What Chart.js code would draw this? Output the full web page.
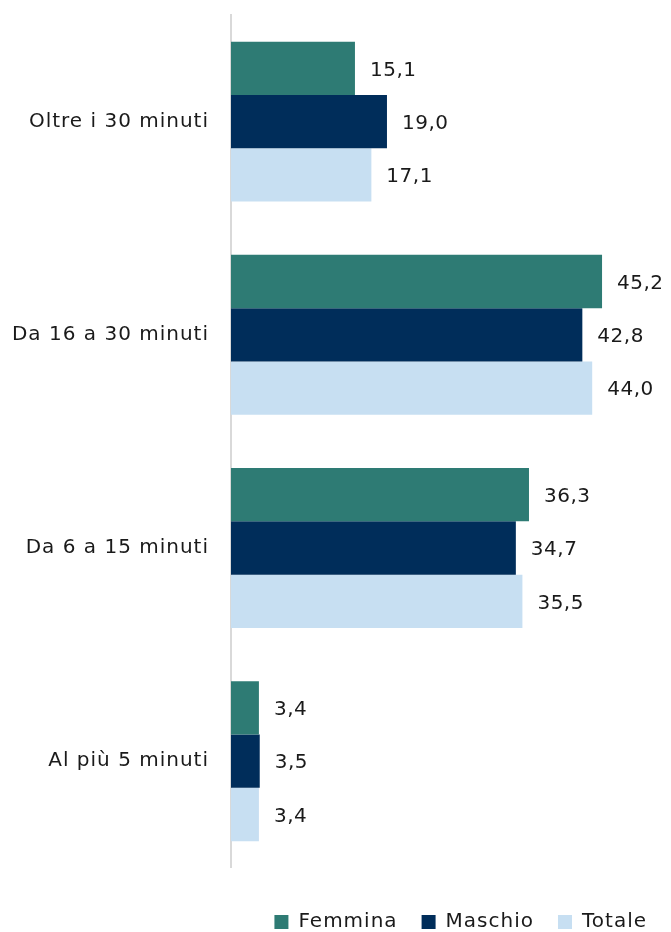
<!DOCTYPE html>
<html lang="it">
<head>
    <meta charset="UTF-8">
    <title>Tempo di percorrenza</title>
    <script src="https://cdn.jsdelivr.net/npm/chart.js"></script>
    <style>
        html, body { margin: 0; padding: 0; background: #fff; }
        #wrap { width: 671px; height: 932px; }
    </style>
</head>
<body>
<div id="wrap"><canvas id="grafico"></canvas></div>

<script>
    // Categorie e valori
    const categorie = ['Oltre i 30 minuti', 'Da 16 a 30 minuti', 'Da 6 a 15 minuti', 'Al più 5 minuti'];
    const femmina = [15.1, 45.2, 36.3, 3.4];
    const maschio = [19.0, 42.8, 34.7, 3.5];
    const totale = [17.1, 44.0, 35.5, 3.4];

    const FONT = "'DejaVu Sans', sans-serif";

    // testo un po' più largo per etichette e legenda
    const spaziatura = {
        id: 'spaziatura',
        beforeLayout(chart) { chart.ctx.letterSpacing = '1px'; },
        beforeDraw(chart) { chart.ctx.letterSpacing = '1px'; }
    };

    // Etichette dei valori a destra delle barre (virgola decimale)
    const etichetteValori = {
        id: 'etichetteValori',
        afterDatasetsDraw(chart) {
            const ctx = chart.ctx;
            ctx.save();
            ctx.letterSpacing = '0.5px';
            ctx.font = '20px ' + FONT;
            ctx.fillStyle = '#1a1a1a';
            ctx.textAlign = 'left';
            ctx.textBaseline = 'middle';
            chart.data.datasets.forEach((ds, i) => {
                chart.getDatasetMeta(i).data.forEach((bar, j) => {
                    const testo = ds.data[j].toFixed(1).replace('.', ',');
                    ctx.fillText(testo, bar.x + 15, bar.y + 2);
                });
            });
            ctx.restore();
        }
    };

    new Chart(document.getElementById('grafico'), {
        type: 'bar',
        data: {
            labels: categorie,
            datasets: [
                { label: 'Femmina', data: femmina, backgroundColor: '#2e7b74' },
                { label: 'Maschio', data: maschio, backgroundColor: '#002d5a' },
                { label: 'Totale', data: totale, backgroundColor: '#c7dff2' }
            ]
        },
        options: {
            indexAxis: 'y',
            responsive: true,
            maintainAspectRatio: false,
            animation: false,
            layout: { padding: { top: 15, right: 0, left: 0, bottom: -10 } },
            datasets: {
                bar: { categoryPercentage: 0.75, barPercentage: 1.0 }
            },
            scales: {
                x: {
                    min: 0,
                    max: 53.6,
                    display: false
                },
                y: {
                    grid: { display: false, drawTicks: false },
                    border: { display: true, color: '#d9d9d9', width: 2 },
                    ticks: {
                        color: '#1a1a1a',
                        padding: 22,
                        font: { family: FONT, size: 20 }
                    },
                    afterFit(scale) {
                        scale.width = 231;
                        scale.paddingTop = 0;
                        scale.paddingBottom = 0;
                    }
                }
            },
            plugins: {
                legend: {
                    position: 'bottom',
                    align: 'end',
                    title: { display: true, text: '', font: { size: 1 }, padding: { top: 19, bottom: 0 } },
                    labels: {
                        boxWidth: 14,
                        boxHeight: 14,
                        padding: 24,
                        color: '#1a1a1a',
                        font: { family: FONT, size: 20 }
                    }
                },
                tooltip: { enabled: false }
            }
        },
        plugins: [spaziatura, etichetteValori]
    });
</script>
</body>
</html>
